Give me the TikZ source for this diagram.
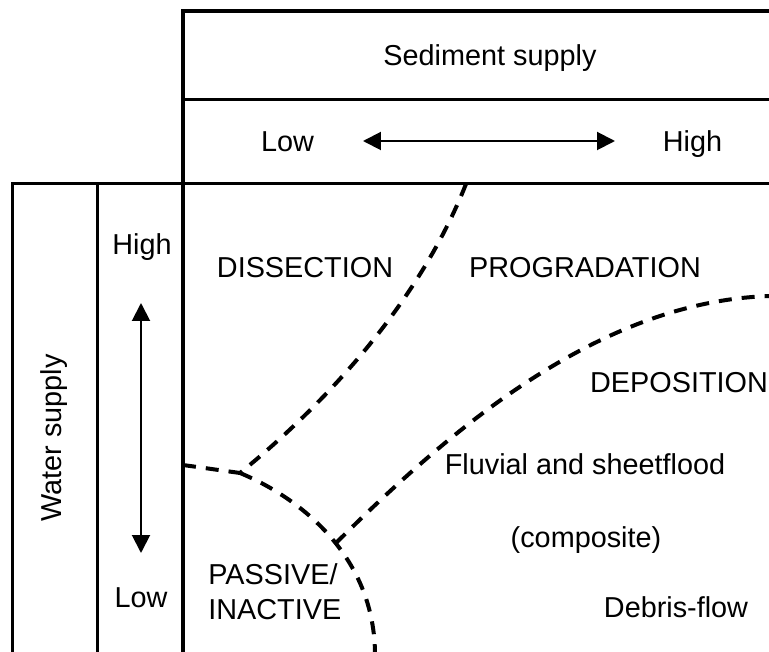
\documentclass[tikz,border=0pt]{standalone}
\usepackage{fontspec}
\setmainfont{Liberation Sans}
\usetikzlibrary{arrows.meta}
\tikzset{
  frame/.style={line width=0.066cm},
  bound/.style={line width=0.08cm, dash pattern=on 0.26cm off 0.2cm},
  supplyarrow/.style={line width=0.04cm, {Triangle[length=0.36cm,width=0.36cm]}-{Triangle[length=0.36cm,width=0.36cm]}},
  txt/.style={inner sep=0pt, font=\fontsize{16.4}{19.8}\selectfont},
  lbl/.style={txt, text height=11.7pt, text depth=0pt}
}
\begin{document}
\begin{tikzpicture}[x=0.02cm,y=-0.02cm]
 \useasboundingbox (0,0) rectangle (769,652);
 % frame
 \draw[frame] (183,660)--(183,11)--(775,11);
 \draw[frame] (183,99.5)--(775,99.5);
 \draw[frame] (12.7,660)--(12.7,183.5)--(775,183.5);
 \draw[frame] (97.3,183.5)--(97.3,660);
 % headings
 \node[lbl] (sed) at (490,55) {Sediment supply};
 \node[lbl] (sedlow) at (287.5,141) {Low};
 \node[lbl] (sedhigh) at (692.5,141) {High};
 \node[lbl,rotate=90] (water) at (51,438) {Water supply};
 \node[lbl] (wathigh) at (142,244) {High};
 \node[lbl] (watlow) at (141,597) {Low};
 % scale arrows
 \coordinate (sL) at (363,141);
 \coordinate (sH) at (615,141);
 \coordinate (wH) at (141,303);
 \coordinate (wL) at (141,553);
 \draw[supplyarrow] (sL)--(sH);
 \draw[supplyarrow] (wH)--(wL);
 % field boundaries
 \coordinate (jA) at (240,473);
 \coordinate (jB) at (336,543);
 \coordinate (topE) at (466,184);
 \coordinate (leftE) at (183,465);
 \coordinate (botE) at (375,655);
 \coordinate (rightE) at (772,296);
 \draw[bound] (topE) .. controls (420,300) and (330,400) .. (jA);
 \draw[bound] (leftE)--(jA);
 \draw[bound] (jA) .. controls (305,500) and (375,560) .. (botE);
 \draw[bound] (jB) .. controls (450,430) and (600,300) .. (rightE);
 % fields
 \node[lbl] (dissection) at (305,267.5) {DISSECTION};
 \node[lbl] (progradation) at (585,267.5) {PROGRADATION};
 \node[lbl] (deposition) at (679,382.5) {DEPOSITION};
 \node[lbl] (fluvial) at (585,464.5) {Fluvial and sheetflood};
 \node[lbl] (composite) at (586,537) {(composite)};
 \node[lbl] (debris) at (676,607.5) {Debris-flow};
 \node[txt,align=left,anchor=north west] (passive) at (208,563) {PASSIVE/\\INACTIVE};
\end{tikzpicture}
\end{document}
